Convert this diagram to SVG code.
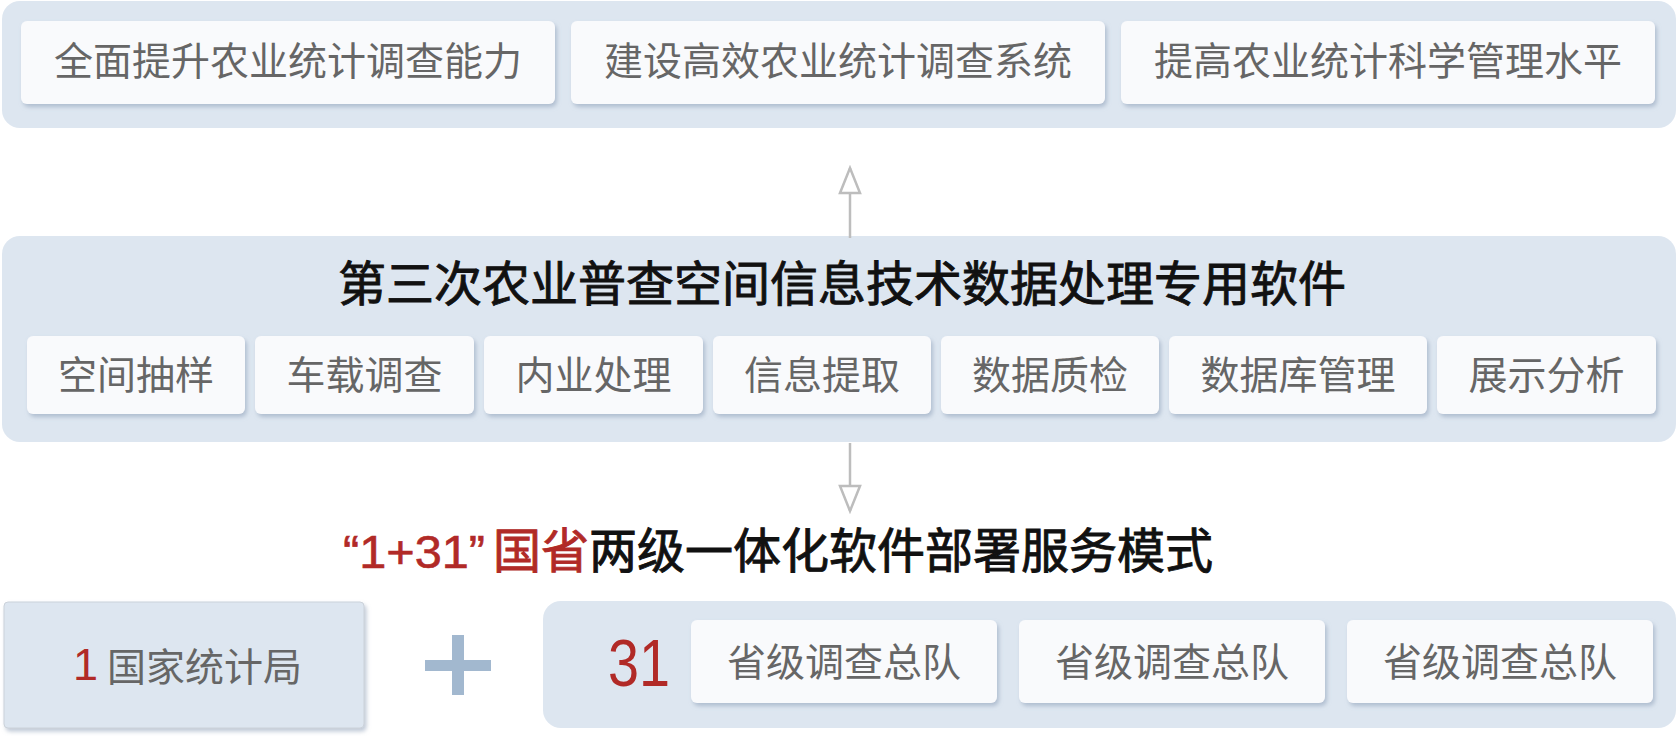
<svg xmlns="http://www.w3.org/2000/svg" width="1678" height="736" viewBox="0 0 1678 736">
<defs>
<filter id="sh" x="-10%" y="-20%" width="120%" height="150%">
<feDropShadow dx="2" dy="3" stdDeviation="2" flood-color="#8a9db5" flood-opacity="0.55"/>
</filter>
<marker id="ah" viewBox="0 0 30 24" refX="27" refY="12" markerWidth="30" markerHeight="24" markerUnits="userSpaceOnUse" orient="auto">
<path d="M2,2 L27,12 L2,22 Z" fill="#ffffff" stroke="#bdbdbd" stroke-width="2.5" stroke-linejoin="miter"/>
</marker>
</defs>
<style>
.outer{fill:#dde6f0}
.card{fill:#f9fafc;filter:url(#sh)}
.t{font-family:"Noto Sans CJK SC","Noto Sans",sans-serif;fill:#666666;font-size:39px}
.c{text-anchor:middle}
.title{font-family:"Noto Sans CJK SC","Noto Sans",sans-serif;fill:#111111;stroke:#111111;stroke-width:0.9px}
.red{fill:#b12a27;stroke:#b12a27}
.lat{font-family:"Liberation Sans",Arial,sans-serif}
.conn{stroke:#bdbdbd;stroke-width:2.5;fill:none}
</style>
<rect x="0" y="0" width="1678" height="736" fill="#ffffff"/>

<g id="goals">
<rect class="outer" x="2" y="1" width="1674" height="127" rx="18"/>
<g id="goal1"><rect class="card" x="21" y="21" width="534" height="83" rx="6"/><text class="t c" x="288" y="75">全面提升农业统计调查能力</text></g>
<g id="goal2"><rect class="card" x="571" y="21" width="534" height="83" rx="6"/><text class="t c" x="838" y="75">建设高效农业统计调查系统</text></g>
<g id="goal3"><rect class="card" x="1121" y="21" width="534" height="83" rx="6"/><text class="t c" x="1388" y="75">提高农业统计科学管理水平</text></g>
</g>

<g id="software">
<rect class="outer" x="2" y="236" width="1674" height="206" rx="18"/>
<text class="title c" x="842" y="301" font-size="48">第三次农业普查空间信息技术数据处理专用软件</text>
<g id="m1"><rect class="card" x="27" y="336" width="218" height="78" rx="6"/><text class="t c" x="136" y="389">空间抽样</text></g>
<g id="m2"><rect class="card" x="255" y="336" width="219" height="78" rx="6"/><text class="t c" x="364.5" y="389">车载调查</text></g>
<g id="m3"><rect class="card" x="484" y="336" width="219" height="78" rx="6"/><text class="t c" x="593.5" y="389">内业处理</text></g>
<g id="m4"><rect class="card" x="713" y="336" width="218" height="78" rx="6"/><text class="t c" x="822" y="389">信息提取</text></g>
<g id="m5"><rect class="card" x="941" y="336" width="218" height="78" rx="6"/><text class="t c" x="1050" y="389">数据质检</text></g>
<g id="m6"><rect class="card" x="1169" y="336" width="258" height="78" rx="6"/><text class="t c" x="1298" y="389">数据库管理</text></g>
<g id="m7"><rect class="card" x="1437" y="336" width="219" height="78" rx="6"/><text class="t c" x="1546.5" y="389">展示分析</text></g>
</g>

<g id="connectors">
<line class="conn" x1="850" y1="238" x2="850" y2="168" marker-end="url(#ah)"/>
<line class="conn" x1="850" y1="443" x2="850" y2="511" marker-end="url(#ah)"/>
</g>

<g id="mode-title">
<text class="title" y="568" font-size="48"><tspan class="lat red" x="343" font-size="46" textLength="142" lengthAdjust="spacingAndGlyphs" style="stroke-width:0.6px">“1+31”</tspan><tspan class="red" x="493">国省</tspan><tspan x="589">两级一体化软件部署服务模式</tspan></text>
</g>

<g id="national">
<rect x="4" y="602" width="360" height="126" rx="4" fill="#dde6f0" stroke="#cbd2da" stroke-width="1" filter="url(#sh)"/>
<text x="73" y="680" class="lat" fill="#b12a27" font-size="45">1</text>
<text class="t" x="107" y="681">国家统计局</text>
</g>

<g id="plus" fill="#a2b8cf">
<rect x="425" y="660" width="66" height="11"/>
<rect x="452" y="635" width="12" height="60"/>
</g>

<g id="provincial">
<rect class="outer" x="543" y="601" width="1133" height="127" rx="18"/>
<text class="lat" fill="#b12a27" x="608" y="686" font-size="66" textLength="62" lengthAdjust="spacingAndGlyphs">31</text>
<g id="p1"><rect class="card" x="691" y="620" width="306" height="83" rx="6"/><text class="t c" x="844" y="676">省级调查总队</text></g>
<g id="p2"><rect class="card" x="1019" y="620" width="306" height="83" rx="6"/><text class="t c" x="1172" y="676">省级调查总队</text></g>
<g id="p3"><rect class="card" x="1347" y="620" width="306" height="83" rx="6"/><text class="t c" x="1500" y="676">省级调查总队</text></g>
</g>
</svg>
